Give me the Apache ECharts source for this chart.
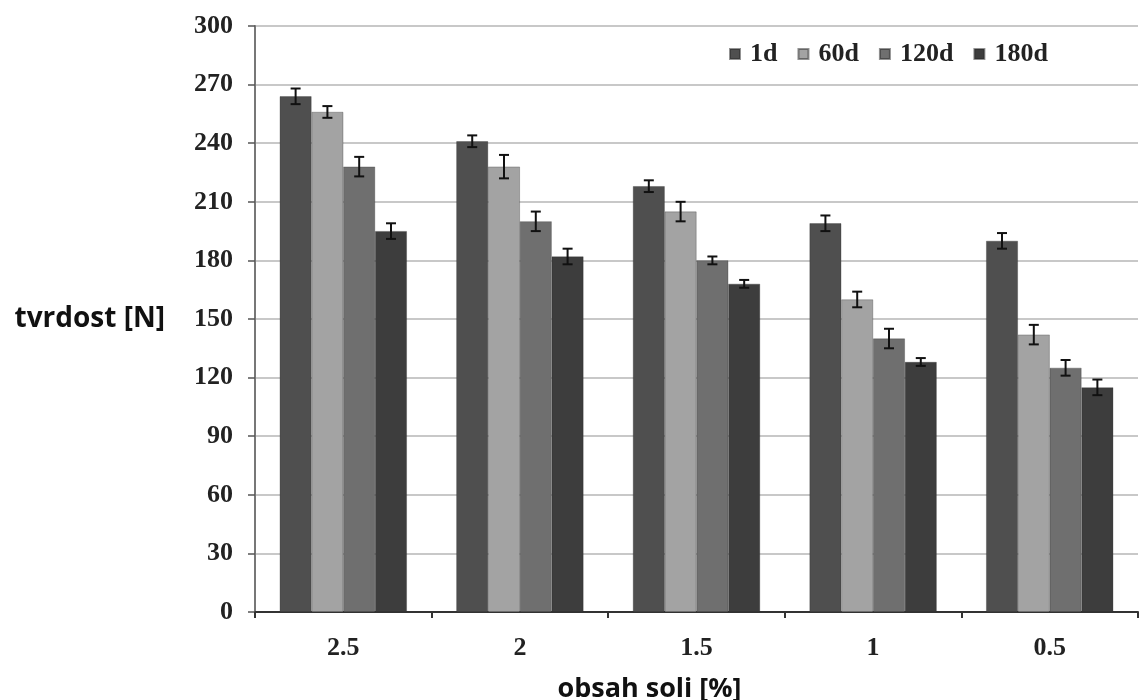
<!DOCTYPE html>
<html>
<head>
<meta charset="utf-8">
<script src="https://cdn.jsdelivr.net/npm/echarts@6/dist/echarts.min.js"></script>
<style>html,body{margin:0;padding:0;background:#fff;}#c{width:1142px;height:700px;}</style>
</head>
<body>
<div id="c"></div>
<script>
var categories = ['2.5', '2', '1.5', '1', '0.5'];
var seriesNames = ['1d', '60d', '120d', '180d'];
var v1d   = [264, 241, 218, 199, 190];
var v60d  = [256, 228, 205, 160, 142];
var v120d = [228, 200, 180, 140, 125];
var v180d = [195, 182, 168, 128, 115];
var e1d   = [4, 3, 3, 4, 4];
var e60d  = [3, 6, 5, 4, 5];
var e120d = [5, 5, 2, 5, 4];
var e180d = [4, 4, 2, 2, 4];
var yTicks = [0, 30, 60, 90, 120, 150, 180, 210, 240, 270, 300];

var values = [v1d, v60d, v120d, v180d];
var errors = [e1d, e60d, e120d, e180d];
var colors = ['#4f4f4f', '#a3a3a3', '#6f6f6f', '#3d3d3d'];
var gapRatio = 0.28;

var series = [];
seriesNames.forEach(function (n, i) {
  series.push({
    name: n, type: 'bar', data: values[i],
    barCategoryGap: (gapRatio * 100) + '%', barGap: '0%',
    itemStyle: { color: colors[i], borderColor: 'rgba(40,40,40,0.5)', borderWidth: 0.6 }
  });
});
seriesNames.forEach(function (n, i) {
  var d = values[i].map(function (v, k) { return [k, v, errors[i][k]]; });
  series.push({
    type: 'custom', silent: true, z: 10,
    data: d,
    encode: { x: 0, y: 1 },
    renderItem: function (params, api) {
      var k = api.value(0), v = api.value(1), e = api.value(2);
      var band = api.size([1, 0])[0];
      var gw = band * (1 - gapRatio);
      var bw = gw / 4;
      var base = api.coord([k, v]);
      var x = base[0] - gw / 2 + bw * (i + 0.5);
      var yHi = api.coord([k, v + e])[1];
      var yLo = api.coord([k, v - e])[1];
      var cap = 5;
      var st = { stroke: '#111', lineWidth: 2 };
      return { type: 'group', children: [
        { type: 'line', shape: { x1: x, y1: yHi, x2: x, y2: yLo }, style: st },
        { type: 'line', shape: { x1: x - cap, y1: yHi, x2: x + cap, y2: yHi }, style: st },
        { type: 'line', shape: { x1: x - cap, y1: yLo, x2: x + cap, y2: yLo }, style: st }
      ]};
    }
  });
});

var chart = echarts.init(document.getElementById('c'), null, { renderer: 'canvas' });
chart.setOption({
  animation: false,
  backgroundColor: '#fff',
  grid: { left: 255, right: 4, top: 26, bottom: 88, containLabel: false, outerBoundsMode: 'none' },
  legend: {
    data: seriesNames, top: 36, left: 724,
    itemWidth: 10, itemHeight: 10, itemGap: 20, icon: 'rect',
    textStyle: { fontFamily: 'Liberation Serif', fontWeight: 'bold', fontSize: 26, color: '#222', padding: [0, 0, 0, 5] }
  },
  xAxis: {
    type: 'category', data: categories,
    axisLine: { lineStyle: { color: '#333', width: 2 } },
    axisTick: { show: true, length: 6, lineStyle: { color: '#333', width: 2 } },
    axisLabel: { fontFamily: 'Liberation Serif', fontWeight: 'bold', fontSize: 26, color: '#222', margin: 23 },
    name: 'obsah soli [%]', nameLocation: 'middle', nameGap: 64,
    nameTextStyle: { fontFamily: 'Open Sans', fontWeight: 'bold', fontSize: 27, color: '#111', padding: [0, 94, 0, 0] }
  },
  yAxis: {
    type: 'value', min: yTicks[0], max: yTicks[yTicks.length - 1], interval: 30,
    axisLine: { show: true, lineStyle: { color: '#777', width: 2 } },
    axisTick: { show: true, length: 7, lineStyle: { color: '#555', width: 1.5 } },
    axisLabel: { fontFamily: 'Liberation Serif', fontWeight: 'bold', fontSize: 26, color: '#222', margin: 22 },
    splitLine: { lineStyle: { color: '#c8c8c8', width: 2 } },
    name: 'tvrdost [N]', nameLocation: 'middle', nameRotate: 0, nameGap: 90,
    nameTextStyle: { fontFamily: 'Open Sans', fontWeight: 'bold', fontSize: 28, color: '#111' }
  },
  series: series
});
</script>
</body>
</html>
